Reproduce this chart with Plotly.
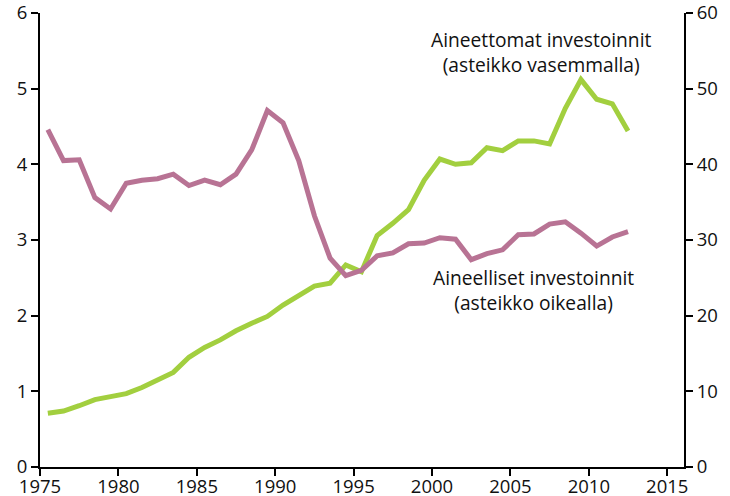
import plotly.graph_objects as go

years = list(range(1975, 2013))

# Aineettomat investoinnit (vasen asteikko)
aineettomat = [0.71, 0.74, 0.81, 0.89, 0.93, 0.97, 1.05, 1.15, 1.25, 1.45,
               1.58, 1.68, 1.80, 1.90, 1.99, 2.14, 2.26, 2.39, 2.43, 2.67,
               2.58, 3.06, 3.22, 3.40, 3.79, 4.07, 4.00, 4.02, 4.22, 4.18,
               4.31, 4.31, 4.27, 4.74, 5.12, 4.86, 4.80, 4.44]

# Aineelliset investoinnit (oikea asteikko)
aineelliset = [44.6, 40.5, 40.6, 35.6, 34.1, 37.5, 37.9, 38.1, 38.7, 37.2,
               37.9, 37.3, 38.7, 41.9, 47.1, 45.5, 40.5, 33.2, 27.6, 25.3,
               26.0, 27.9, 28.3, 29.5, 29.6, 30.3, 30.1, 27.4, 28.2, 28.7,
               30.7, 30.8, 32.1, 32.4, 30.9, 29.2, 30.4, 31.1]

x_tick_vals = [1975, 1980, 1985, 1990, 1995, 2000, 2005, 2010, 2015]

# points sit in the middle of each year
xs = [y + 0.5 for y in years]

fig = go.Figure()
fig.add_trace(go.Scatter(x=xs, y=aineelliset, mode="lines", yaxis="y2",
                         line=dict(color="#b87394", width=5), showlegend=False))
fig.add_trace(go.Scatter(x=xs, y=aineettomat, mode="lines",
                         line=dict(color="#a2cf3f", width=5), showlegend=False))

font = dict(family="Open Sans, DejaVu Sans, sans-serif", size=18.5, color="#111111")
ann_font = dict(family="Open Sans, DejaVu Sans, sans-serif", size=19.2, color="#111111")

axis_common = dict(showgrid=False, zeroline=False, showline=True,
                   linecolor="black", linewidth=2, ticks="outside",
                   ticklen=7, tickwidth=1.5, tickcolor="black", tickfont=font,
                   automargin=False, ticklabeloverflow="allow")

fig.update_layout(
    width=730, height=496,
    margin=dict(l=40, r=46, t=13, b=29),
    plot_bgcolor="white", paper_bgcolor="white",
    xaxis=dict(range=[1975, 2016.07], tickvals=x_tick_vals,
               ticklabelstandoff=-5, **axis_common),
    yaxis=dict(range=[0, 6], dtick=1, **axis_common),
    yaxis2=dict(range=[0, 60], dtick=10, overlaying="y", side="right", **axis_common),
    annotations=[
        dict(x=2006.94, y=5.49, xref="x", yref="y",
             text="Aineettomat investoinnit<br>(asteikko vasemmalla)",
             showarrow=False, font=ann_font),
        dict(x=2006.46, y=2.335, xref="x", yref="y",
             text="Aineelliset investoinnit<br>(asteikko oikealla)",
             showarrow=False, font=ann_font),
    ],
)

# drop the default 8px page margin so the figure fills the window exactly
fig.write_html("out.html", config={"displayModeBar": False},
               post_script="document.body.style.margin='0';")
